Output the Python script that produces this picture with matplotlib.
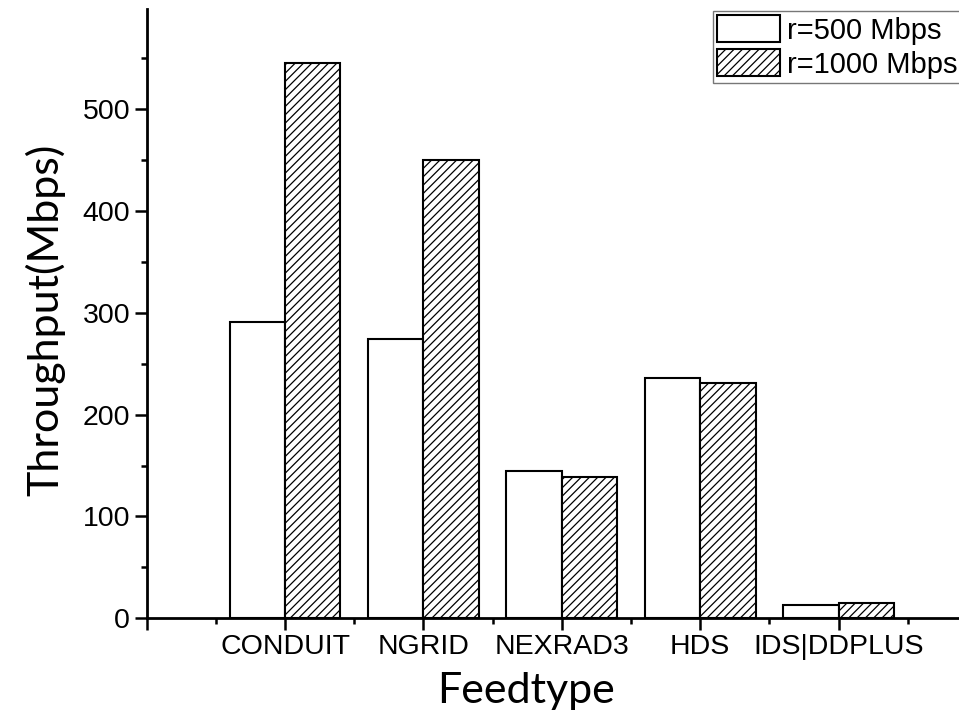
import numpy as np
import matplotlib.pyplot as plt
from matplotlib.ticker import MultipleLocator

feeds = ['CONDUIT', 'NGRID', 'NEXRAD3', 'HDS', 'IDS|DDPLUS']
r500 = [291, 274, 145, 236, 13]
r1000 = [545, 450, 139, 231, 15]

plt.rcParams['font.family'] = 'Liberation Sans'
plt.rcParams['hatch.linewidth'] = 0.9

fig = plt.figure(figsize=(9.59, 7.26), dpi=100)
ax = fig.add_axes([146.7 / 959, 107.7 / 726, 812.3 / 959, 609 / 726])

x = np.arange(1, len(feeds) + 1)
w = 0.4
ax.bar(x - w / 2, r500, w, color='white', edgecolor='black', linewidth=1.5,
       label='r=500 Mbps')
ax.bar(x + w / 2, r1000, w, color='white', edgecolor='black', linewidth=1.5,
       hatch='////', label='r=1000 Mbps')

ax.set_xlim(0, 5.87)
ax.set_ylim(0, 598)
ax.set_xticks(np.arange(0, len(feeds) + 1))
ax.set_xticklabels([''] + feeds)
ax.xaxis.set_minor_locator(MultipleLocator(0.5))
ax.set_yticks(np.arange(0, 501, 100))
ax.yaxis.set_minor_locator(MultipleLocator(50))

for s in ['top', 'right']:
    ax.spines[s].set_visible(False)
for s in ['left', 'bottom']:
    ax.spines[s].set_linewidth(2)
ax.tick_params(which='major', length=8.5, width=1.8, labelsize=20.5, direction='out')
ax.tick_params(which='minor', length=4, width=1.8, direction='out')
ax.tick_params(axis='x', pad=3)

ax.set_ylabel('Throughput(Mbps)', fontsize=31, fontname='Lato')
ax.set_xlabel('Feedtype', fontsize=31, fontname='Lato')
ax.yaxis.set_label_coords(-0.1, 0.49)
ax.xaxis.set_label_coords(0.467, -0.088)

leg = ax.legend(loc='upper left', bbox_to_anchor=(713 / 959, 1 - 11 / 726),
                bbox_transform=fig.transFigure, fontsize=21, fancybox=False,
                handlelength=2.15, handleheight=1.05, handletextpad=0.25,
                labelspacing=0.15, borderpad=0.15, borderaxespad=0)
leg.get_frame().set_edgecolor('#555555')
leg.get_frame().set_linewidth(1)

fig.savefig('out.png', dpi=100)
